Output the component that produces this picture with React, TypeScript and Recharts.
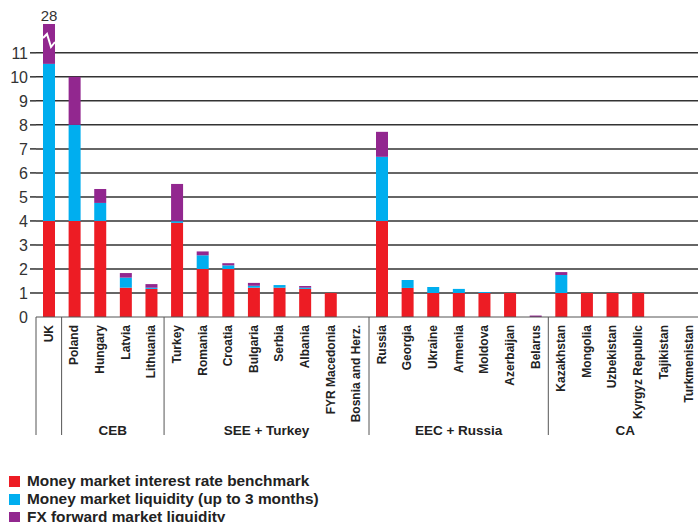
import React from "react";
import { BarChart, Bar, XAxis, YAxis, CartesianGrid } from "recharts";

const categories = [
  "UK", "Poland", "Hungary", "Latvia", "Lithuania", "Turkey", "Romania", "Croatia",
  "Bulgaria", "Serbia", "Albania", "FYR Macedonia", "Bosnia and Herz.", "Russia",
  "Georgia", "Ukraine", "Armenia", "Moldova", "Azerbaijan", "Belarus", "Kazakhstan",
  "Mongolia", "Uzbekistan", "Kyrgyz Republic", "Tajikistan", "Turkmenistan",
];
const benchmark = [4, 4, 4, 1.22, 1.17, 3.92, 2, 2, 1.22, 1.22, 1.17, 1, 0, 4, 1.21, 1, 1, 1, 1, 0, 1, 1, 1, 1, 0, 0];
const liquidity = [6.54, 4, 0.75, 0.42, 0.05, 0.07, 0.57, 0.15, 0.08, 0.11, 0.05, 0, 0, 2.67, 0.33, 0.25, 0.17, 0.04, 0, 0, 0.75, 0, 0, 0, 0, 0];
const fxForward = [17.46, 2, 0.58, 0.19, 0.15, 1.55, 0.16, 0.09, 0.12, 0, 0.07, 0, 0, 1.04, 0, 0, 0, 0, 0, 0.06, 0.12, 0, 0, 0, 0, 0];
const totalLabels = ["28", "", "", "", "", "", "", "", "", "", "", "", "", "", "", "", "", "", "", "", "", "", "", "", "", ""];
const groups = [
  { name: "", start: 0, count: 1 },
  { name: "CEB", start: 1, count: 4 },
  { name: "SEE + Turkey", start: 5, count: 8 },
  { name: "EEC + Russia", start: 13, count: 7 },
  { name: "CA", start: 20, count: 6 },
];
const yTicks = [0, 1, 2, 3, 4, 5, 6, 7, 8, 9, 10, 11];
const axisCap = 12.2; // axis break: values above are cut
const seriesNames = [
  "Money market interest rate benchmark",
  "Money market liquidity (up to 3 months)",
  "FX forward market liquidity",
];
const colors = ["#ED1C24", "#00AEEF", "#92278F"];

const data = categories.map((c, i) => {
  const base = benchmark[i] + liquidity[i];
  return {
    category: c,
    benchmark: benchmark[i],
    liquidity: liquidity[i],
    fx: Math.min(fxForward[i], axisCap - base),
    broken: base + fxForward[i] > axisCap,
    total: totalLabels[i],
  };
});

const VIEW_W = 690;
const CHART_W = 694;
const CHART_H = 514;
const Y_W = 28;
const MARGIN = { top: 16, right: 0, bottom: 75, left: 0 };
const BAND = (CHART_W - Y_W - MARGIN.left - MARGIN.right) / categories.length;
const FONT = "'Liberation Sans', Arial, sans-serif";

const XTick = (props: any) => {
  const { x, y, payload } = props;
  const idx = payload.index;
  const group = groups.find((g) => g.start === idx);
  return (
    <g>
      <text
        x={0}
        y={0}
        transform={`translate(${x + 4},${y + 8}) rotate(-90)`}
        textAnchor="end"
        fontSize={12}
        fontWeight="bold"
        fill="#222"
        fontFamily={FONT}
      >
        {payload.value}
      </text>
      {group && (
        <line x1={x - BAND / 2} x2={x - BAND / 2} y1={y} y2={y + 118} stroke="#555" strokeWidth={1} />
      )}
      {group && group.name && (
        <text
          x={x - BAND / 2 + (group.count * BAND) / 2}
          y={y + 118}
          textAnchor="middle"
          fontSize={13.5}
          fontWeight="bold"
          fill="#222"
          fontFamily={FONT}
        >
          {group.name}
        </text>
      )}
    </g>
  );
};

const YTick = (props: any) => {
  const { x, y, payload } = props;
  return (
    <g>
      {payload.value !== 0 && (
        <line x1={x + 2} x2={x + 8} y1={y} y2={y} stroke="#333" strokeWidth={1.5} />
      )}
      <text x={x} y={y} dy="0.36em" textAnchor="end" fontSize={16} fill="#333" fontFamily={FONT}>
        {payload.value}
      </text>
    </g>
  );
};

const FxShape = (props: any) => {
  const { x, y, width, height, fill, payload } = props;
  if (!height || height <= 0) return null;
  return (
    <g>
      <rect x={x} y={y} width={width} height={height} fill={fill} />
      {payload.broken && (
        <polyline
          points={`${x},${y + 14} ${x + 4},${y + 10} ${x + 8},${y + 23} ${x + width},${y + 18}`}
          fill="none"
          stroke="#fff"
          strokeWidth={2}
        />
      )}
    </g>
  );
};

const TotalLabel = (props: any) => {
  const { x, y, width, value } = props;
  if (!value) return null;
  return (
    <text x={x + width / 2} y={y - 3} textAnchor="middle" fontSize={15} fill="#333" fontFamily={FONT}>
      {value}
    </text>
  );
};

export default function App() {
  return (
    <div style={{ position: "absolute", left: 8, top: 8, width: VIEW_W, height: CHART_H, overflow: "hidden", background: "#fff" }}>
      <BarChart width={CHART_W} height={CHART_H} data={data} margin={MARGIN} barSize={12}>
        <CartesianGrid horizontal vertical={false} stroke="#333" strokeWidth={1.5} horizontalValues={yTicks.slice(1)} />
        <XAxis
          dataKey="category"
          interval={0}
          height={130}
          tickSize={0}
          tickMargin={0}
          tick={<XTick />}
          axisLine={{ stroke: "#555", strokeWidth: 1 }}
        />
        <YAxis
          width={Y_W}
          domain={[0, axisCap]}
          ticks={yTicks}
          tickSize={0}
          tickMargin={8}
          tick={<YTick />}
          tickLine={false}
          axisLine={false}
          allowDataOverflow
        />
        <Bar dataKey="benchmark" stackId="a" fill={colors[0]} isAnimationActive={false} />
        <Bar dataKey="liquidity" stackId="a" fill={colors[1]} isAnimationActive={false} />
        <Bar
          dataKey="fx"
          stackId="a"
          fill={colors[2]}
          isAnimationActive={false}
          shape={<FxShape />}
          label={(p: any) => <TotalLabel {...p} value={data[p.index]?.total} />}
        />
      </BarChart>
      <div style={{ position: "absolute", left: 0, top: 464, fontFamily: FONT }}>
        {seriesNames.map((n, i) => (
          <div key={n} style={{ display: "flex", alignItems: "center", height: 18 }}>
            <span style={{ display: "inline-block", width: 11, height: 11, background: colors[i], marginLeft: 1, marginRight: 7 }} />
            <span style={{ fontSize: 15.4, fontWeight: "bold", color: "#222", whiteSpace: "nowrap" }}>{n}</span>
          </div>
        ))}
      </div>
    </div>
  );
}
